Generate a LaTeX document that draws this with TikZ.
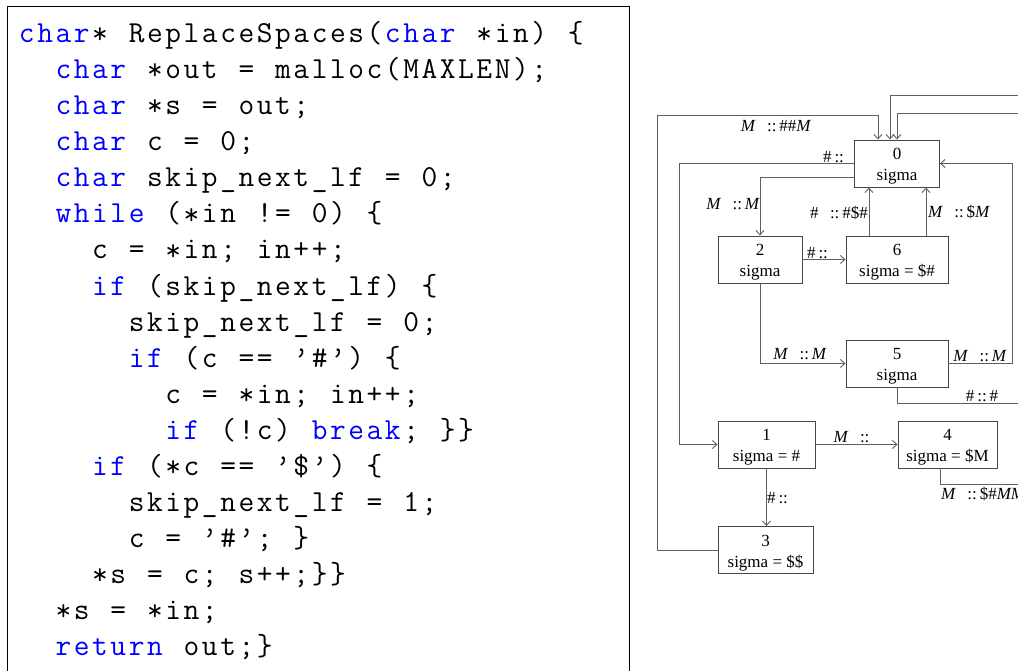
\documentclass[tikz,border=0pt]{standalone}
\usepackage{fontspec}
\usetikzlibrary{arrows.meta}
\newfontfamily\dfont{Liberation Serif}
\definecolor{kwblue}{RGB}{0,0,255}
\definecolor{edgegray}{RGB}{95,95,95}
\definecolor{boxgray}{RGB}{70,70,70}

% fixed-pitch code cells (one character per cell)
\ExplSyntaxOn
\dim_new:N \l_cd_w_dim
\dim_set:Nn \l_cd_w_dim { 18.3pt }
\cs_new:Npn \cdsp { }
\cs_new_protected:Npn \cd_cell:n #1
  {
    \tl_if_eq:nnTF {#1} { * }
      { \makebox [ \l_cd_w_dim ] [c] { \raisebox { -0.04em } { * } } }
      { \makebox [ \l_cd_w_dim ] [c] {#1} }
  }
\NewDocumentCommand \ct { m }
  {
    \tl_set:Nn \l_tmpa_tl {#1}
    \tl_replace_all:Nnn \l_tmpa_tl { ~ } { \cdsp }
    \tl_map_function:NN \l_tmpa_tl \cd_cell:n
  }
\ExplSyntaxOff
\newcommand\kw[1]{{\color{kwblue}\ct{#1}}}
% two-line state text: number over sigma
\newcommand\st[2]{\rule{0pt}{17.5pt}#1\\#2}

\tikzset{
  codeline/.style={anchor=base west, inner sep=0pt,
    font=\ttfamily\fontsize{30.5}{36}\selectfont},
  state/.style={draw=boxgray, line width=0.9pt, align=center, inner sep=0pt,
    minimum height=47pt, font=\dfont\fontsize{17}{21}\selectfont},
  edge/.style={draw=edgegray, line width=0.9pt,
    -{Straight Barb[length=4.5pt,width=8pt]}},
  lab/.style={inner sep=0pt, font=\dfont\fontsize{17}{21}\selectfont},
}
\newcommand\cc{\,::\,}
\newcommand\cx[1]{{17.5+#1*18.3}}
\newcommand\cy[1]{{42.6+#1*36.06}}

\begin{document}
\begin{tikzpicture}[x=1pt,y=-1pt]
\useasboundingbox (0,0) rectangle (1018,671);

% ---- source listing ----
\draw[line width=1pt] (7,6.5) rectangle (629,700);
\node[codeline] (c0)  at (\cx{0},\cy{0})  {\kw{char}\ct{* ReplaceSpaces(}\kw{char}\ct{ *in) \{}};
\node[codeline] (c1)  at (\cx{2},\cy{1})  {\kw{char}\ct{ *out = malloc(MAXLEN);}};
\node[codeline] (c2)  at (\cx{2},\cy{2})  {\kw{char}\ct{ *s = out;}};
\node[codeline] (c3)  at (\cx{2},\cy{3})  {\kw{char}\ct{ c = 0;}};
\node[codeline] (c4)  at (\cx{2},\cy{4})  {\kw{char}\ct{ skip\_next\_lf = 0;}};
\node[codeline] (c5)  at (\cx{2},\cy{5})  {\kw{while}\ct{ (*in != 0) \{}};
\node[codeline] (c6)  at (\cx{4},\cy{6})  {\ct{c = *in; in++;}};
\node[codeline] (c7)  at (\cx{4},\cy{7})  {\kw{if}\ct{ (skip\_next\_lf) \{}};
\node[codeline] (c8)  at (\cx{6},\cy{8})  {\ct{skip\_next\_lf = 0;}};
\node[codeline] (c9)  at (\cx{6},\cy{9})  {\kw{if}\ct{ (c == ’\#’) \{}};
\node[codeline] (c10) at (\cx{8},\cy{10}) {\ct{c = *in; in++;}};
\node[codeline] (c11) at (\cx{8},\cy{11}) {\kw{if}\ct{ (!c) }\kw{break}\ct{; \}\}}};
\node[codeline] (c12) at (\cx{4},\cy{12}) {\kw{if}\ct{ (*c == ’\$’) \{}};
\node[codeline] (c13) at (\cx{6},\cy{13}) {\ct{skip\_next\_lf = 1;}};
\node[codeline] (c14) at (\cx{6},\cy{14}) {\ct{c = ’\#’; \}}};
\node[codeline] (c15) at (\cx{4},\cy{15}) {\ct{*s = c; s++;\}\}}};
\node[codeline] (c16) at (\cx{2},\cy{16}) {\ct{*s = *in;}};
\node[codeline] (c17) at (\cx{2},\cy{17}) {\kw{return}\ct{ out;\}}};

% ---- automaton states ----
\node[state, minimum width=85pt]  (n0) at (897,163.5)   {\st{0}{sigma}};
\node[state, minimum width=84pt]  (n2) at (760,259.5)   {\st{2}{sigma}};
\node[state, minimum width=102pt] (n6) at (897,259.5)   {\st{6}{sigma = \$\#}};
\node[state, minimum width=102pt] (n5) at (897,363.5)   {\st{5}{sigma}};
\node[state, minimum width=97pt]  (n1) at (766.5,444.5) {\st{1}{sigma = \#}};
\node[state, minimum width=99pt]  (n4) at (947.5,444.5) {\st{4}{sigma = \$M}};
\node[state, minimum width=95pt]  (n3) at (765.5,550)   {\st{3}{sigma = \$\$}};

% ---- transitions ----
\coordinate (k3) at (657,115);
\draw[edge] (n3.west) -| (k3) -| ([xshift=-19pt]n0.north);
\node[lab] (l3) at (776,126) {\textit{M}\enspace\cc\#\#\textit{M}};

\coordinate (k4) at (1040,95);
\draw[edge] ([xshift=-7.5pt]n4.south) -- ++(0,16) -| (k4) -| ([xshift=-7pt]n0.north);
\node[lab, anchor=west] (l4) at (941,494) {\textit{M}\enspace\cc\$\#\textit{MM}};

\coordinate (k5) at (1028,113);
\draw[edge] (n5.south) -- ++(0,16) -| (k5) -| (n0.north);
\node[lab] (l5b) at (982,396) {\#\cc\#};

\draw[edge] (n5.east) -| ([xshift=72pt]n0.east) -- (n0.east);
\node[lab] (l5a) at (980,356) {\textit{M}\enspace\cc\textit{M}};

\draw[edge] (n0.west) -| ([xshift=-38pt]n1.west) -- (n1.west);
\node[lab] (l0a) at (835,157) {\#\cc};

\draw[edge] ([yshift=-13.5pt]n0.west) -| (n2.north);
\node[lab] (l0b) at (733,204) {\textit{M}\enspace\cc\textit{M}};

\draw[edge] (n2.east) -- (n6.west);
\node[lab] (l2a) at (819,253) {\#\cc};

\draw[edge] ([xshift=-28pt]n6.north) -- ([xshift=-28pt]n0.south);
\node[lab] (l6a) at (839,213) {\#\enspace\cc\#\$\#};

\draw[edge] ([xshift=29pt]n6.north) -- ([xshift=29pt]n0.south);
\node[lab] (l6b) at (959,212) {\textit{M}\enspace\cc\$\textit{M}};

\draw[edge] (n2.south) |- (n5.west);
\node[lab] (l2b) at (800,354) {\textit{M}\enspace\cc\textit{M}};

\draw[edge] (n1.east) -- (n4.west);
\node[lab] (l1a) at (853,437) {\textit{M}\enspace\cc};

\draw[edge] (n1.south) -- (n1.south |- n3.north);
\node[lab] (l1b) at (779,498) {\#\cc};
\end{tikzpicture}
\end{document}
